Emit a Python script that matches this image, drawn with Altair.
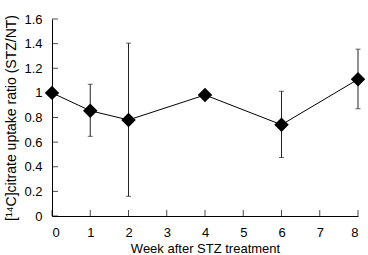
import altair as alt
import pandas as pd

weeks = [0, 1, 2, 4, 6, 8]
ratio = [1.00, 0.855, 0.78, 0.983, 0.741, 1.11]
err_low = [1.00, 0.647, 0.16, 0.983, 0.475, 0.871]
err_high = [1.00, 1.07, 1.404, 0.983, 1.013, 1.355]
x_ticks = [0, 1, 2, 3, 4, 5, 6, 7, 8]
y_ticks = [0, 0.2, 0.4, 0.6, 0.8, 1.0, 1.2, 1.4, 1.6]

df = pd.DataFrame({"week": weeks, "ratio": ratio, "lo": err_low, "hi": err_high})
eb = df[df["lo"] != df["hi"]]
xt = pd.DataFrame({"week": x_ticks, "ratio": [0] * len(x_ticks)})
yt = pd.DataFrame({"week": [0] * len(y_ticks), "ratio": y_ticks})

font = "Liberation Sans"
xs = alt.Scale(domain=[0, 8], nice=False)
ys = alt.Scale(domain=[0, 1.6], nice=False)
xaxis = alt.Axis(title="Week after STZ treatment", values=x_ticks, format="~g",
                 grid=False, ticks=False, labelFontSize=13, titleFontSize=13,
                 labelFont=font, titleFont=font, labelColor="#000", titleColor="#000",
                 domainColor="#000", labelPadding=10, titlePadding=3,
                 titleFontWeight="normal")
yaxis = alt.Axis(title="[¹⁴C]citrate uptake ratio (STZ/NT)", values=y_ticks, format="~g",
                 grid=False, ticks=False, labelFontSize=13, titleFontSize=14,
                 labelFont=font, titleFont=font, labelColor="#000", titleColor="#000",
                 domainColor="#000", labelPadding=10, titlePadding=5,
                 titleFontWeight="normal")


def X(f):
    return alt.X(f"{f}:Q", scale=xs, axis=xaxis)


def Y(f):
    return alt.Y(f"{f}:Q", scale=ys, axis=yaxis)


line = alt.Chart(df).mark_line(color="#000", strokeWidth=1).encode(x=X("week"), y=Y("ratio"))
rules = alt.Chart(eb).mark_rule(color="#222", strokeWidth=1).encode(x=X("week"), y=Y("lo"), y2="hi:Q")
cap_lo = alt.Chart(eb).mark_tick(orient="horizontal", size=5, thickness=1, color="#222").encode(x=X("week"), y=Y("lo"))
cap_hi = alt.Chart(eb).mark_tick(orient="horizontal", size=5, thickness=1, color="#222").encode(x=X("week"), y=Y("hi"))
xtick = alt.Chart(xt).mark_tick(orient="vertical", size=6, thickness=1, yOffset=-3, color="#000").encode(x=X("week"), y=Y("ratio"))
ytick = alt.Chart(yt).mark_tick(orient="horizontal", size=6, thickness=1, xOffset=3, color="#000").encode(x=X("week"), y=Y("ratio"))
pts = alt.Chart(df).mark_point(shape="diamond", filled=True, size=210, color="#000", opacity=1).encode(x=X("week"), y=Y("ratio"))

chart = alt.layer(line, rules, cap_lo, cap_hi, xtick, ytick, pts).properties(
    width=306, height=197,
    autosize=alt.AutoSizeParams(type="none"),
    padding={"left": 52, "top": 19, "right": 10, "bottom": 39},
).configure_view(stroke=None)

chart.save("out.html", embed_options={"renderer": "svg", "actions": False})
